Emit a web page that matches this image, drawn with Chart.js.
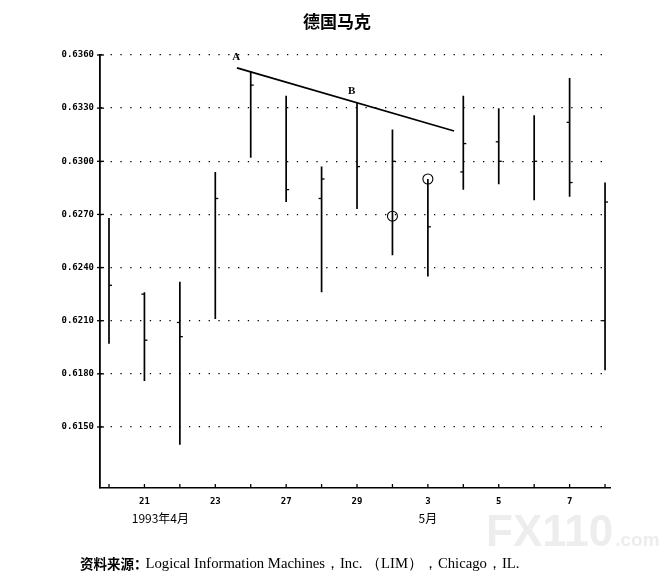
<!DOCTYPE html>
<html><head><meta charset="utf-8">
<script src="https://cdn.jsdelivr.net/npm/chart.js@4/dist/chart.umd.min.js"></script>
<style>html,body{margin:0;padding:0;background:#fff}#wrap{width:665px;height:578px;position:relative}</style>
</head><body><div id="wrap"><canvas id="c" width="665" height="578"></canvas></div>
<script>
const dates = ['20','21','22','23','26','27','28','29','30','3','4','5','6','7','10'];
const shownDates = ['21','23','27','29','3','5','7'];
const high  = [0.6268,0.6226,0.6232,0.6294,0.6351,0.6337,0.6297,0.6333,0.6318,0.6290,0.6337,0.6330,0.6326,0.6347,0.6288];
const low   = [0.6197,0.6176,0.6140,0.6211,0.6302,0.6277,0.6226,0.6273,0.6247,0.6235,0.6284,0.6287,0.6278,0.6280,0.6182];
const openV = [null,0.6225,0.6209,null,null,null,0.6279,null,null,null,0.6294,0.6311,null,0.6322,0.6210];
const closeV= [0.6230,0.6199,0.6201,0.6279,0.6343,0.6284,0.6290,0.6297,0.6300,0.6263,0.6310,0.6300,0.6300,0.6288,0.6277];
const circled = [{x:8,y:0.6269},{x:9,y:0.6290}];
const trendLine = [{x:3.61,y:0.63527},{x:9.74,y:0.63171}];
const pointLabels = [{t:'A',x:3.59,y:0.6359},{t:'B',x:6.85,y:0.63397}];
const yTicks = [0.6150,0.6180,0.6210,0.6240,0.6270,0.6300,0.6330,0.6360];
const title = '德国马克';
const monthLabels = [{t:'1993年4月',x:1.45},{t:'5月',x:9.0}];
const sourcePrefix = '资料来源：';
const sourceText = 'Logical Information Machines，Inc. （LIM），Chicago，IL.';

const hlData = [];
dates.forEach((d,i)=>{ hlData.push({x:i,y:low[i]},{x:i,y:high[i]},{x:i,y:null}); });
const openData = openV.map((v,i)=>v==null?null:{x:i,y:v}).filter(Boolean);
const closeData = closeV.map((v,i)=>({x:i,y:v}));

const extras = {
  id:'extras',
  beforeDraw(chart){
    const ctx = chart.ctx;
    ctx.save();
    ctx.fillStyle = '#ededed';
    ctx.textBaseline = 'alphabetic'; ctx.textAlign = 'left';
    ctx.font = 'bold 44px "Liberation Sans"';
    ctx.fillText('FX110', 486, 546);
    const w = ctx.measureText('FX110').width;
    ctx.font = 'bold 19px "Liberation Sans"';
    ctx.fillText('.com', 486 + w + 2, 546);
    ctx.restore();
  },
  afterDraw(chart){
    const ctx = chart.ctx, xs = chart.scales.x, ys = chart.scales.y, ca = chart.chartArea;
    ctx.save();
    ctx.strokeStyle = '#000'; ctx.lineWidth = 1.3;
    for (let i=0;i<dates.length;i++){
      const px = xs.getPixelForValue(i);
      ctx.beginPath(); ctx.moveTo(px, ca.bottom); ctx.lineTo(px, ca.bottom-4); ctx.stroke();
    }
    yTicks.forEach(v=>{
      const py = ys.getPixelForValue(v);
      ctx.beginPath(); ctx.moveTo(ca.left-3, py); ctx.lineTo(ca.left+4, py); ctx.stroke();
    });
    ctx.fillStyle = '#000';
    ctx.font = 'bold 11px "Liberation Serif"';
    ctx.textAlign = 'center'; ctx.textBaseline = 'middle';
    pointLabels.forEach(p=>ctx.fillText(p.t, xs.getPixelForValue(p.x), ys.getPixelForValue(p.y)));
    ctx.font = 'bold 17px "Noto Sans CJK SC"';
    ctx.fillText(title, 337, 22);
    ctx.font = '12px "Noto Sans CJK SC"';
    monthLabels.forEach(m=>ctx.fillText(m.t, xs.getPixelForValue(m.x), 518));
    ctx.textAlign = 'left';
    ctx.font = 'bold 13.5px "Noto Sans CJK SC"';
    ctx.fillText(sourcePrefix, 80, 564);
    const w = ctx.measureText(sourcePrefix).width;
    ctx.font = '14.7px "Liberation Serif"';
    ctx.fillText(sourceText, 80 + w - 2, 564);
    ctx.restore();
  }
};

new Chart(document.getElementById('c'), {
  type:'line',
  data:{ datasets:[
    {data:hlData, borderColor:'#000', borderWidth:1.7, pointRadius:0, spanGaps:false, order:1},
    {data:closeData, showLine:false, pointStyle:'dash', pointRadius:3, borderColor:'#000', pointBorderWidth:1.3, order:2},
    {data:openData, showLine:false, pointStyle:'dash', rotation:180, pointRadius:3, borderColor:'#000', pointBorderWidth:1.3, order:3},
    {data:circled, showLine:false, pointStyle:'circle', pointRadius:5, borderColor:'#000', backgroundColor:'rgba(0,0,0,0)', pointBorderWidth:1.1, order:4},
    {data:trendLine, borderColor:'#000', borderWidth:1.8, pointRadius:0, order:5}
  ]},
  options:{
    responsive:false, animation:false, devicePixelRatio:1,
    layout:{padding:{top:55,right:55,left:0,bottom:0}},
    plugins:{legend:{display:false}, tooltip:{enabled:false}, title:{display:false}},
    scales:{
      x:{type:'linear', min:-0.254, max:14.14,
        grid:{display:false},
        border:{display:true,color:'#000',width:1.6},
        afterBuildTicks:(s)=>{ s.ticks = dates.map((d,i)=>({value:i})); },
        afterFit:(s)=>{ s.height = 90; },
        ticks:{autoSkip:false, maxRotation:0, padding:0, color:'#000',
          font:{family:'"DejaVu Sans Mono"', size:9, weight:'bold'},
          callback:(v)=>{ const d = dates[v]; return shownDates.includes(d) && v%2===1 ? d : ''; }}
      },
      y:{type:'linear', min:0.611556, max:0.6360,
        grid:{display:true, color:'#000', lineWidth:1.3, drawTicks:false},
        border:{display:true, color:'#000', width:1.8, dash:[1.3,8.5]},
        afterBuildTicks:(s)=>{ s.ticks = yTicks.map(v=>({value:v})); },
        afterFit:(s)=>{ s.width = 100; },
        ticks:{padding:6, color:'#000',
          font:{family:'"DejaVu Sans Mono"', size:9, weight:'bold'},
          callback:(v)=>Number(v).toFixed(4)}
      }
    }
  },
  plugins:[extras]
});
</script></body></html>
